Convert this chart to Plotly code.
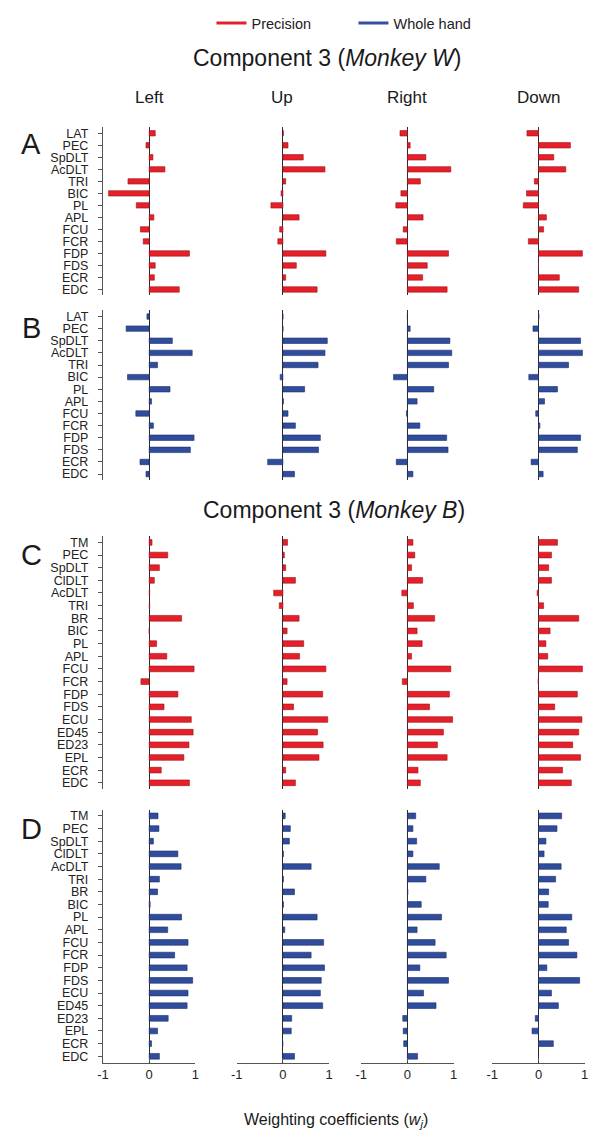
import plotly.graph_objects as go

W, H = 590, 1136

directions = ["Left", "Up", "Right", "Down"]

muscles_w = ["LAT", "PEC", "SpDLT", "AcDLT", "TRI", "BIC", "PL", "APL",
             "FCU", "FCR", "FDP", "FDS", "ECR", "EDC"]
muscles_b = ["TM", "PEC", "SpDLT", "ClDLT", "AcDLT", "TRI", "BR", "BIC", "PL",
             "APL", "FCU", "FCR", "FDP", "FDS", "ECU", "ED45", "ED23", "EPL",
             "ECR", "EDC"]

# Panel A: Monkey W, Precision
a_left  = [0.13, -0.07, 0.08, 0.34, -0.46, -0.88, -0.28, 0.10, -0.19, -0.13, 0.87, 0.13, 0.11, 0.65]
a_up    = [0.01, 0.11, 0.44, 0.91, 0.06, -0.04, -0.26, 0.35, -0.07, -0.11, 0.93, 0.29, 0.06, 0.74]
a_right = [-0.16, 0.06, 0.40, 0.94, 0.28, -0.14, -0.25, 0.34, -0.09, -0.24, 0.89, 0.43, 0.33, 0.86]
a_down  = [-0.25, 0.69, 0.33, 0.59, -0.09, -0.26, -0.33, 0.17, 0.11, -0.22, 0.95, 0.00, 0.45, 0.87]

# Panel B: Monkey W, Whole hand
b_left  = [-0.05, -0.50, 0.50, 0.93, 0.18, -0.47, 0.45, 0.05, -0.29, 0.09, 0.97, 0.89, -0.20, -0.07]
b_up    = [0.00, 0.00, 0.96, 0.91, 0.76, -0.06, 0.47, 0.01, 0.11, 0.27, 0.81, 0.77, -0.33, 0.25]
b_right = [0.00, 0.06, 0.92, 0.96, 0.89, -0.30, 0.57, 0.21, -0.02, 0.27, 0.85, 0.88, -0.24, 0.12]
b_down  = [0.01, -0.12, 0.91, 0.95, 0.65, -0.21, 0.41, 0.13, -0.06, 0.03, 0.91, 0.84, -0.16, 0.10]

# Panel C: Monkey B, Precision
c_left  = [0.06, 0.40, 0.22, 0.11, 0.01, 0.01, 0.70, 0.00, 0.16, 0.38, 0.97, -0.18, 0.62, 0.32,
           0.91, 0.95, 0.86, 0.75, 0.26, 0.87]
c_up    = [0.10, 0.03, 0.06, 0.27, -0.20, -0.08, 0.35, 0.09, 0.45, 0.36, 0.93, 0.09, 0.86, 0.23,
           0.97, 0.75, 0.87, 0.78, 0.06, 0.27]
c_right = [0.12, 0.16, 0.09, 0.33, -0.12, 0.13, 0.59, 0.21, 0.32, 0.09, 0.94, -0.11, 0.91, 0.48,
           0.98, 0.78, 0.65, 0.86, 0.23, 0.28]
c_down  = [0.41, 0.28, 0.22, 0.28, -0.03, 0.11, 0.87, 0.25, 0.16, 0.20, 0.95, -0.01, 0.84, 0.35,
           0.94, 0.87, 0.74, 0.91, 0.52, 0.71]

# Panel D: Monkey B, Whole hand
d_left  = [0.19, 0.21, 0.09, 0.62, 0.69, 0.22, 0.18, 0.02, 0.70, 0.40, 0.84, 0.55, 0.82, 0.94,
           0.84, 0.82, 0.41, 0.18, 0.05, 0.22]
d_up    = [0.05, 0.16, 0.14, 0.01, 0.61, 0.01, 0.25, 0.01, 0.74, 0.04, 0.88, 0.61, 0.90, 0.83,
           0.81, 0.86, 0.19, 0.18, -0.01, 0.25]
d_right = [0.18, 0.12, 0.20, 0.12, 0.69, 0.40, 0.01, 0.30, 0.74, 0.21, 0.60, 0.84, 0.27, 0.89,
           0.35, 0.62, -0.10, -0.09, -0.08, 0.22]
d_down  = [0.50, 0.40, 0.16, 0.12, 0.49, 0.37, 0.22, 0.21, 0.72, 0.60, 0.65, 0.83, 0.18, 0.89,
           0.28, 0.43, -0.07, -0.14, 0.32, 0.00]

x_ticks = [-1, 0, 1]
x_ticktext = ["-1", "0", "1"]

RED, RED_EDGE = "#e5202a", "#9e1319"
BLUE, BLUE_EDGE = "#2f4d9c", "#1c2f66"
FONT = "Liberation Sans, Arial, sans-serif"

panels = [
    ("A", muscles_w, [a_left, a_up, a_right, a_down], RED, RED_EDGE),
    ("B", muscles_w, [b_left, b_up, b_right, b_down], BLUE, BLUE_EDGE),
    ("C", muscles_b, [c_left, c_up, c_right, c_down], RED, RED_EDGE),
    ("D", muscles_b, [d_left, d_up, d_right, d_down], BLUE, BLUE_EDGE),
]

# layout geometry in pixels
col_px = [(98.7, 192.7), (234.7, 328.7), (361.3, 455.3), (494.7, 588.7)]
row_px = [(126.5, 295.0), (310.0, 480.0), (536.0, 789.5), (810.0, 1063.5)]
letter_y = [143, 328, 555, 829]
header_x = [146, 281, 408, 542]

fig = go.Figure()
layout = {}

for p, (letter, muscles, series, color, edge) in enumerate(panels):
    n = len(muscles)
    for c, vals in enumerate(series):
        k = p * 4 + c + 1
        xs = "x" if k == 1 else f"x{k}"
        ys = "y" if k == 1 else f"y{k}"
        fig.add_trace(go.Bar(
            x=vals, y=muscles, orientation="h",
            marker=dict(color=color, line=dict(color=edge, width=0.6)),
            xaxis=xs, yaxis=ys, showlegend=False, hoverinfo="x+y",
        ))
        bottom = (p == 3)
        x0, x1 = col_px[c]
        y0, y1 = row_px[p]
        layout["xaxis" if k == 1 else f"xaxis{k}"] = dict(
            domain=[x0 / W, x1 / W], range=[-1, 1], anchor=ys,
            showgrid=False, zeroline=True, zerolinecolor="#2b2b2b", zerolinewidth=1.4,
            showline=bottom, linecolor="#555555", linewidth=1.4,
            ticks="inside" if bottom else "", ticklen=4, tickwidth=1.4, tickcolor="#555555",
            tickmode="array", tickvals=x_ticks, ticktext=x_ticktext, showticklabels=bottom,
            tickfont=dict(size=13, color="#222222", family=FONT), fixedrange=True,
        )
        yax = dict(
            domain=[1 - y1 / H, 1 - y0 / H], anchor=xs, type="category",
            categoryorder="array", categoryarray=muscles, range=[n - 0.5, -0.5],
            showgrid=False, zeroline=False,
            showline=(c == 0), linecolor="#555555", linewidth=1.4,
            showticklabels=(c == 0), fixedrange=True,
        )
        if c == 0:
            yax.update(
                ticks="outside", ticklen=4, tickwidth=1.2, tickcolor="#555555",
                tickmode="array", tickvals=muscles, ticktext=muscles,
                ticklabelstandoff=7,
                tickfont=dict(size=12.5, color="#222222", family=FONT),
            )
        else:
            yax.update(ticks="")
        layout["yaxis" if k == 1 else f"yaxis{k}"] = yax

# legend entries (line samples)
fig.add_trace(go.Scatter(x=[None], y=[None], mode="lines", name="Precision",
                         line=dict(color="#e0222b", width=3), xaxis="x", yaxis="y"))
fig.add_trace(go.Scatter(x=[None], y=[None], mode="lines", name="Whole hand",
                         line=dict(color="#34509e", width=3), xaxis="x", yaxis="y"))

ann = []
ann.append(dict(text="Component 3 (<i>Monkey W</i>)", x=326.5 / W, y=1 - 56.7 / H,
                font=dict(size=23)))
ann.append(dict(text="Component 3 (<i>Monkey B</i>)", x=334 / W, y=1 - 510 / H,
                font=dict(size=23)))
for hx, d in zip(header_x, directions):
    ann.append(dict(text=d, x=hx / W, y=1 - 96.7 / H, font=dict(size=17)))
for (letter, *_), ly in zip(panels, letter_y):
    ann.append(dict(text=letter, x=25.5 / W, y=1 - ly / H, font=dict(size=29)))
ann.append(dict(text="Weighting coefficients (<i>w</i><sub><i>j</i></sub>)",
                x=336 / W, y=1 - 1121.7 / H, font=dict(size=16)))
for a in ann:
    a.update(xref="paper", yref="paper", xanchor="center", yanchor="middle",
             showarrow=False)
    a["font"].update(family=FONT, color="#1a1a1a")

layout.update(
    width=W, height=H, margin=dict(l=0, r=0, t=0, b=0),
    paper_bgcolor="white", plot_bgcolor="white",
    bargap=0.55, font=dict(family=FONT, color="#1a1a1a"),
    showlegend=True,
    legend=dict(orientation="h", x=209 / W, y=1 - 6 / H, xanchor="left", yanchor="top",
                font=dict(size=14.5, family=FONT, color="#222222"),
                bgcolor="rgba(0,0,0,0)", entrywidth=97, itemwidth=30),
    annotations=ann,
)
fig.update_layout(**layout)
fig.write_html("out.html")
